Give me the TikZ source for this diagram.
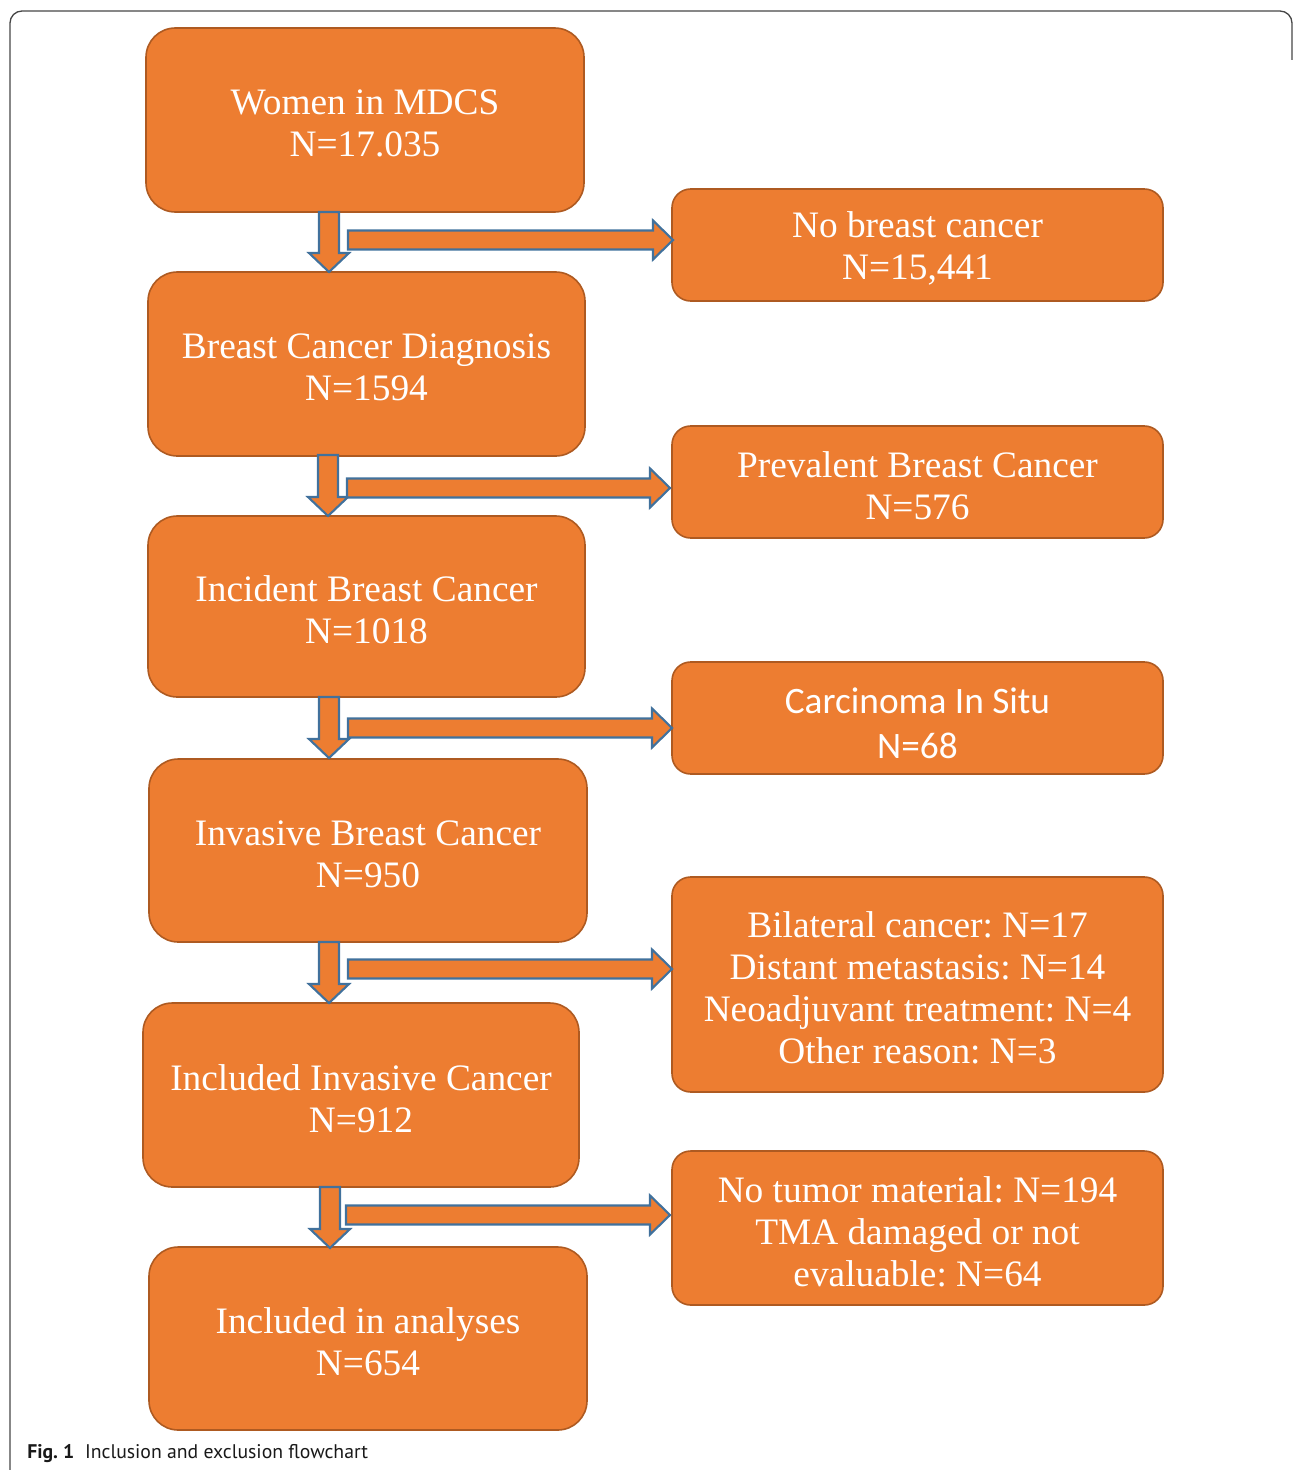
\documentclass[tikz,border=0pt]{standalone}
\usepackage{fontspec}
\setmainfont{Liberation Serif}
\newfontfamily\carlfont{Carlito}
\newfontfamily\capfont{PT Sans}
\usetikzlibrary{calc}
\frenchspacing
\definecolor{boxfill}{RGB}{237,125,49}
\definecolor{boxline}{RGB}{174,90,33}
\definecolor{arrline}{RGB}{65,113,156}
\definecolor{framecol}{RGB}{70,70,70}
\newcommand\DownArr[3]{% x, ytop, ytip
  \draw[blockarrow] (#1-10,#2) -- (#1+10,#2) -- (#1+10,#3-19) -- (#1+20,#3-19) -- (#1,#3)
     -- (#1-20,#3-19) -- (#1-10,#3-19) -- cycle;}
\newcommand\RightArr[3]{% xstart, xtip, y
  \draw[blockarrow] (#1,#3-9.5) -- (#2-20,#3-9.5) -- (#2-20,#3-19.5) -- (#2,#3)
     -- (#2-20,#3+19.5) -- (#2-20,#3+9.5) -- (#1,#3+9.5) -- cycle;}
\tikzset{
  flowbox/.style={draw=boxline, fill=boxfill, line width=1.2pt, inner sep=0pt},
  leftbox/.style={flowbox, rounded corners=22pt},
  rightbox/.style={flowbox, rounded corners=14pt, minimum width=491*0.75pt},
  boxtext/.style={text=white, align=center, inner sep=0pt, font=\fontsize{28}{31.5}\selectfont},
  blockarrow/.style={draw=arrline, fill=boxfill, line width=1.6pt, line join=miter},
}
\begin{document}
\begin{tikzpicture}[x=0.75pt,y=-0.75pt]
\useasboundingbox (0,0) rectangle (1293,1470);
% frame
\draw[framecol, line width=1pt, rounded corners=9pt] (10,1480) -- (10,11) -- (1292,11) -- (1292,60);

% left column
\node[leftbox, minimum width=438*0.75pt, minimum height=184*0.75pt] (l1) at (365,120) {};
\node[boxtext] (l1t) at ([yshift=-2.5pt]l1.center) {Women in MDCS\\N=17.035};
\node[leftbox, minimum width=437*0.75pt, minimum height=184*0.75pt] (l2) at (366.5,364) {};
\node[boxtext] (l2t) at ([yshift=-2.5pt]l2.center) {Breast Cancer Diagnosis\\N=1594};
\node[leftbox, minimum width=437*0.75pt, minimum height=181*0.75pt] (l3) at (366.5,606.5) {};
\node[boxtext] (l3t) at ([yshift=-2.5pt]l3.center) {Incident Breast Cancer\\N=1018};
\node[leftbox, minimum width=438*0.75pt, minimum height=183*0.75pt] (l4) at (368,850.5) {};
\node[boxtext] (l4t) at ([yshift=-2.5pt]l4.center) {Invasive Breast Cancer\\N=950};
\node[leftbox, minimum width=436*0.75pt, minimum height=184*0.75pt] (l5) at (361,1095) {};
\node[boxtext] (l5t) at ([yshift=-2.5pt]l5.center) {Included Invasive Cancer\\N=912};
\node[leftbox, minimum width=438*0.75pt, minimum height=183*0.75pt] (l6) at (368,1338.5) {};
\node[boxtext] (l6t) at ([yshift=-2.5pt]l6.center) {Included in analyses\\N=654};

% right column
\node[rightbox, minimum height=112*0.75pt] (r1) at (917.5,245) {};
\node[boxtext] (r1t) at ([yshift=-2.5pt]r1.center) {No breast cancer\\N=15,441};
\node[rightbox, minimum height=112*0.75pt] (r2) at (917.5,482) {};
\node[boxtext] (r2t) at ([yshift=-2.5pt]r2.center) {Prevalent Breast Cancer\\N=576};
\node[rightbox, minimum height=112*0.75pt] (r3) at (917.5,718) {};
\node[boxtext, font=\carlfont\fontsize{28}{33.75}\selectfont] (r3t) at ([yshift=-3.8pt]r3.center) {Carcinoma In Situ\\N=68};
\node[rightbox, minimum height=215*0.75pt] (r4) at (917.5,984.5) {};
\node[boxtext] (r4t) at ([yshift=-2.5pt]r4.center)
  {Bilateral cancer: N=17\\Distant metastasis: N=14\\Neoadjuvant treatment: N=4\\Other reason: N=3};
\node[rightbox, minimum height=154*0.75pt] (r5) at (917.5,1228) {};
\node[boxtext] (r5t) at ([yshift=-2.5pt]r5.center)
  {No tumor material: N=194\\TMA damaged or not\\evaluable: N=64};

% arrows
\DownArr{329}{212}{272}
\RightArr{348}{673}{240}
\DownArr{328}{455}{516}
\RightArr{347}{670}{488}
\DownArr{329}{697}{758}
\RightArr{348}{672}{728}
\DownArr{329}{942}{1003}
\RightArr{348}{672}{969}
\DownArr{330}{1187}{1248}
\RightArr{346}{670}{1215}

% caption
\node[anchor=base west, inner sep=0pt, font=\capfont\fontsize{14.8}{17}\selectfont, text=black!90] (cap) at (27,1458)
  {\textbf{Fig. 1}\hspace{0.55em}Inclusion and exclusion flowchart};
\end{tikzpicture}
\end{document}
